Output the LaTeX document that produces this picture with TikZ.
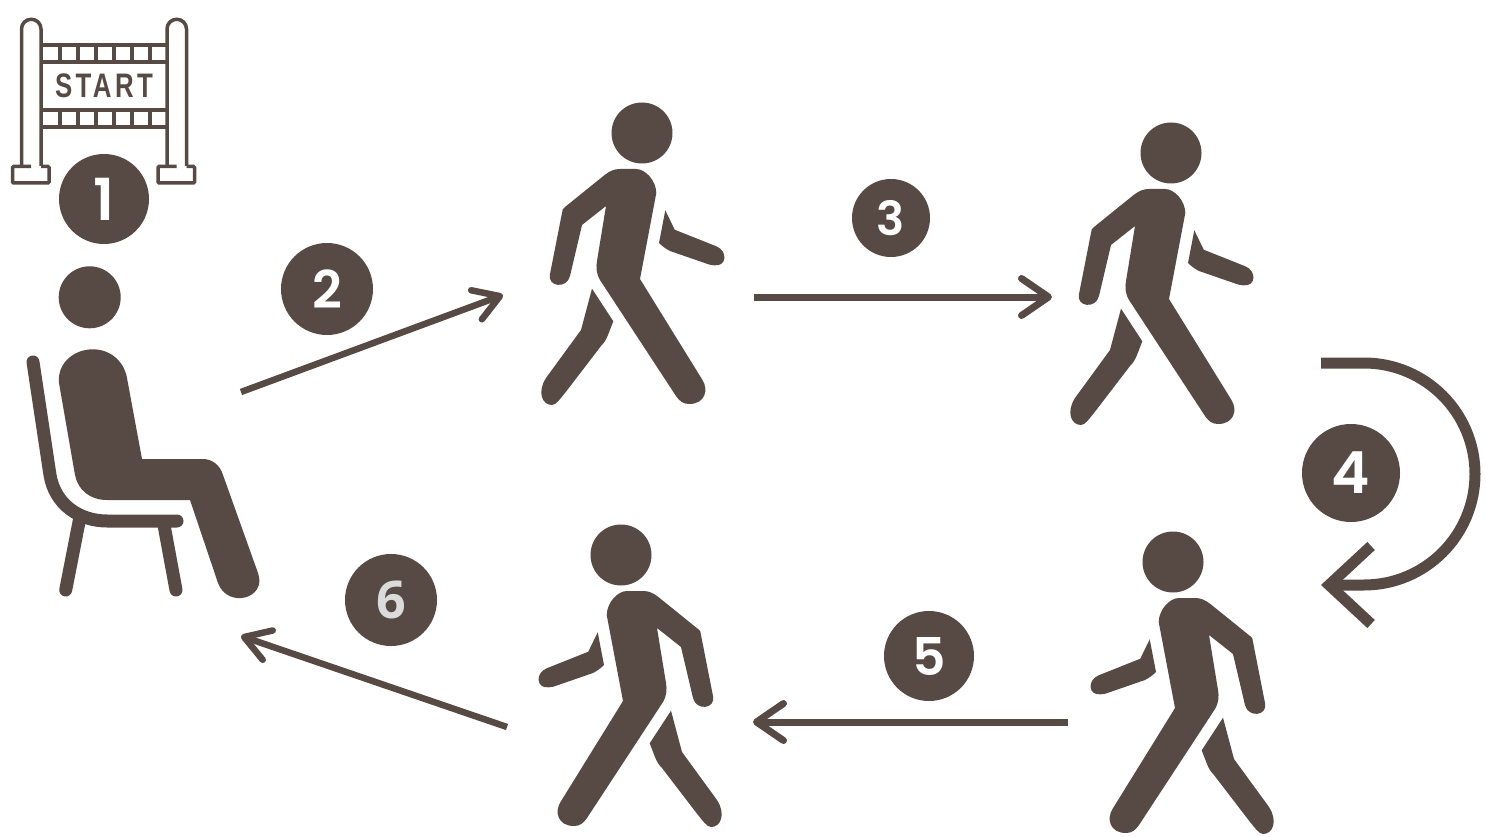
\documentclass[tikz,border=0pt]{standalone}
\usepackage{fontspec}
\setmainfont{Poppins}[BoldFont={* SemiBold}]
\newfontfamily\startfont[LetterSpace=10,FakeStretch=0.76]{Liberation Sans Bold}
\newfontfamily\sixfont{Open Sans}
\usetikzlibrary{arrows.meta}
\definecolor{figbrown}{HTML}{574A44}
\tikzset{
  badge/.style={circle,fill=figbrown,text=white,inner sep=0pt},
  flowline/.style={figbrown,line width=7pt,-{Straight Barb[round,length=27pt,width=37pt,line width=7pt]}},
  slantline/.style={figbrown,line width=6.5pt,-{Straight Barb[round,length=25pt,width=31pt,line width=6.5pt]}},
  turnline/.style={figbrown,line width=11pt,-{Straight Barb[length=42pt,width=78pt,line width=11pt]}},
  ribbon/.style={figbrown,line width=3.5pt},
}
\newcommand{\digitsize}[1]{\fontsize{#1}{#1}\bfseries\selectfont}
% head at (#1,#2), #3 = 1 walks right, -1 walks left
\newcommand{\walker}[3]{%
  \begin{scope}[shift={(#1,#2)},xscale=#3]
  \fill[figbrown] (0,0) circle[radius=30.5];
  \fill[figbrown] (-22,36) -- (-6,36) .. controls (3,36) and (14,47) .. (14.3,60) -- (-2,146) -- (60.3,246.7)
    .. controls (67,257) and (63,271) .. (47,271) .. controls (41,271) and (37.5,268) .. (34,263)
    -- (-42,147) .. controls (-46,140) and (-46,134) .. (-45,128) -- (-36,73) -- (-60,92) -- (-72,143)
    .. controls (-75.1,156.2) and (-95,154) .. (-92,141) -- (-80,80) .. controls (-80,77) and (-79,75) .. (-77,74)
    -- (-37,41.7) .. controls (-32,38) and (-28,36) .. (-22,36) -- cycle;
  \fill[figbrown] (23.3,77.3) -- (32.7,96.7) -- (74.3,113.3) .. controls (86,118) and (85,134) .. (72,132.3)
    .. controls (68,132) and (65,131) .. (62.7,130) -- (28,118) .. controls (24,116) and (20,113) .. (17,110) -- cycle;
  \fill[figbrown] (-50,155.7) -- (-28.7,188.3) -- (-34,202) .. controls (-36,207) and (-38,210) .. (-41,213)
    -- (-75.7,258.3) .. controls (-82,266) and (-86,272) .. (-90,272) .. controls (-100,272) and (-105,259) .. (-96,245)
    -- (-61,197) -- cycle;
  \end{scope}}

\begin{document}
\begin{tikzpicture}[x=1pt,y=-1pt]
\useasboundingbox (0,0) rectangle (1486,837);
% start gate
\foreach \px in {0,145.5}{
  \draw[ribbon,rounded corners=1pt] (41+\px,166.5) -- (49+\px,166.5) -- (49+\px,183) -- (12.5+\px,183) -- (12.5+\px,166.5) -- (31+\px,166.5);
  \draw[ribbon] (21.5+\px,166) -- (21.5+\px,29) arc[start angle=180,end angle=0,x radius=9.75,y radius=-9.75] -- (41+\px,166);
}
\foreach \ry in {45,62,110,127}{
  \draw[ribbon] (41,\ry) -- (166,\ry);
}
\foreach \rx in {60,78,96,114,132,150}{
  \draw[ribbon] (\rx,45) -- (\rx,62);
  \draw[ribbon] (\rx,110) -- (\rx,127);
}
\node[text=figbrown,font=\startfont\fontsize{34}{34}\selectfont,inner sep=0pt] (startlabel) at (104,86) {START};
% seated figure
\fill[figbrown] (89.7,297.3) circle[radius=31];
\fill[figbrown] (59,383) .. controls (57,363) and (74,349.3) .. (93,349.3) .. controls (110,349.3) and (124,361) .. (127,378)
  -- (142,459) -- (203,459) .. controls (212,459) and (220,465) .. (223,475) -- (258,573)
  .. controls (267.4,598.9) and (227.4,608.9) .. (218,583)
  -- (190,500) -- (107,500) .. controls (90,500) and (78,490) .. (75,475) -- cycle;
\draw[figbrown,line width=13pt,line cap=round] (33,362) -- (50,475) .. controls (55,505) and (80,521) .. (107,521) -- (177,521);
\draw[figbrown,line width=13pt,line cap=round] (80,517) -- (65.7,590);
\draw[figbrown,line width=13pt,line cap=round] (164,525) -- (176,590);
% walkers
\walker{642}{133}{1}
\walker{1171}{153}{1}
\walker{1173}{562}{-1}
\walker{621}{555}{-1}
% numbers
\node[badge,minimum size=90pt,font=\digitsize{58}] (one) at (104,199) {1};
\node[badge,minimum size=92pt,font=\digitsize{52}] (two) at (327,289) {2};
\node[badge,minimum size=78pt,font=\digitsize{47}] (three) at (891,218) {3};
\node[badge,minimum size=98pt,font=\digitsize{58}] (four) at (1351,473) {4};
\node[badge,minimum size=90pt,font=\digitsize{52}] (five) at (929,656) {5};
\node[badge,minimum size=92pt,text=black!14,font=\sixfont\digitsize{52}] (six) at (391,600) {6};
% connectors
\coordinate (seatout) at (241,392);
\coordinate (walkAin) at (503,295);
\coordinate (walkAout) at (754,297);
\coordinate (walkBin) at (1052,297);
\coordinate (turnstart) at (1321,363);
\coordinate (turntop) at (1364,363);
\coordinate (turnend) at (1321,585);
\coordinate (walkCout) at (1068,722);
\coordinate (walkCin) at (753,722);
\coordinate (walkDout) at (507,727);
\coordinate (seatin) at (241,636);
\draw[slantline] (seatout) -- (walkAin);
\draw[flowline] (walkAout) -- (walkBin);
\draw[turnline] (turnstart) -- (turntop) arc[start angle=90,end angle=-90,x radius=111,y radius=-111] -- (turnend);
\draw[flowline] (walkCout) -- (walkCin);
\draw[slantline] (walkDout) -- (seatin);
\end{tikzpicture}
\end{document}
